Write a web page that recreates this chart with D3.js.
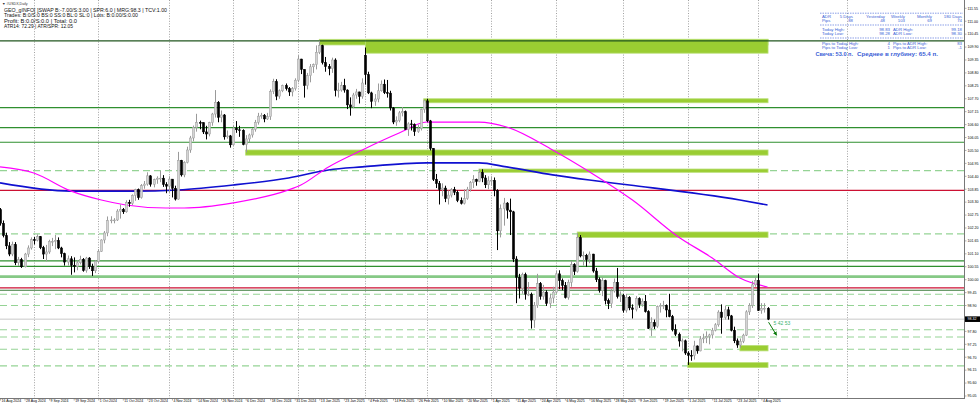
<!DOCTYPE html>
<html><head><meta charset="utf-8">
<script src="https://cdn.jsdelivr.net/npm/d3@7"></script>
<style>body{margin:0;background:#fff}svg{display:block}text{font-family:"Liberation Sans",Arial,sans-serif}</style>
</head><body><svg id="c" width="980" height="407"></svg>
<script>
// ---------- DATA ----------
const xLabels = ["16 Aug 2024","28 Aug 2024","9 Sep 2024","19 Sep 2024","1 Oct 2024","11 Oct 2024","23 Oct 2024","4 Nov 2024","14 Nov 2024","26 Nov 2024","6 Dec 2024","18 Dec 2024","31 Dec 2024","13 Jan 2025","23 Jan 2025","4 Feb 2025","14 Feb 2025","26 Feb 2025","10 Mar 2025","20 Mar 2025","1 Apr 2025","11 Apr 2025","24 Apr 2025","6 May 2025","16 May 2025","28 May 2025","9 Jun 2025","19 Jun 2025","1 Jul 2025","11 Jul 2025","23 Jul 2025","4 Aug 2025"];
const xLabelBars = [0,8,16,24,32,40,48,56,64,72,80,88,96,104,112,120,128,136,144,152,160,168,176,184,192,200,208,216,224,232,240,248];
const monthGridBars = [11,32,55,76,97,119,139,160,181,203,224,247,276];
const priceTicks = [111.55,111.00,110.45,109.90,109.35,108.80,108.25,107.70,107.15,106.60,106.05,105.50,104.95,104.40,103.85,103.30,102.75,102.20,101.65,101.10,100.55,100.00,99.45,98.90,98.35,97.80,97.25,96.70,96.15,95.60,95.05];

const open = [102.98,102.40,101.88,101.44,101.09,101.50,100.72,100.85,100.55,101.09,101.35,
101.70,101.68,101.83,101.36,101.09,101.18,101.63,101.63,101.67,101.35,101.11,100.75,100.89,100.61,100.57,100.72,100.87,100.39,100.92,100.56,100.38,
100.78,101.20,101.69,101.99,102.52,102.54,102.54,102.92,102.99,102.89,103.29,103.24,103.59,103.83,103.49,104.00,104.07,104.42,104.06,104.26,104.32,104.32,104.05,
103.98,104.28,103.89,103.43,105.08,104.46,104.99,105.52,106.03,106.48,106.69,106.68,106.29,106.20,106.68,107.05,107.55,106.91,107.01,106.08,106.12,
105.74,106.45,106.38,106.36,105.75,105.99,106.16,106.40,106.70,106.96,107.00,106.84,106.94,108.01,108.43,107.81,108.04,108.26,108.13,107.99,108.13,
108.49,109.39,108.95,108.26,108.68,109.06,109.15,109.68,109.96,109.24,109.07,108.98,109.35,108.06,108.07,108.26,108.07,107.44,107.36,107.86,107.99,107.80,
109.55,108.73,107.95,107.59,107.69,108.04,108.32,107.96,107.94,107.31,106.71,106.77,107.10,107.15,106.39,106.63,106.61,106.30,106.44,107.24,
107.61,106.76,105.59,104.27,104.09,103.84,103.90,103.45,103.60,103.83,103.72,103.37,103.25,103.45,103.85,104.13,104.26,104.18,104.56,104.33,104.04,
104.21,104.23,103.80,102.08,103.02,103.26,102.96,102.89,100.88,100.10,99.64,100.22,99.38,99.38,98.28,98.91,99.84,99.29,99.47,98.99,99.22,
99.47,100.25,99.96,99.76,99.24,99.89,100.64,100.35,101.79,101.01,101.04,100.85,101.09,100.37,100.00,99.55,99.96,99.11,98.98,99.52,99.89,99.28,
99.33,98.70,99.25,98.80,98.74,99.19,98.94,99.08,98.64,97.93,98.18,98.02,98.85,98.90,98.91,98.71,98.43,97.87,97.68,97.39,97.40,
96.88,96.78,96.77,97.18,96.97,97.48,97.52,97.58,97.65,97.85,98.08,98.62,98.39,98.72,98.46,97.85,97.40,97.22,97.38,97.64,98.63,98.90,99.78,
99.97,98.69,98.78,98.78];
const high = [103.05,102.52,102.00,101.60,101.62,101.60,100.97,100.93,101.14,101.46,101.80,
101.82,101.93,101.86,101.44,101.48,101.70,101.78,101.90,101.80,101.40,101.15,101.03,101.00,100.95,100.82,101.02,100.92,100.97,100.96,100.68,100.83,
101.30,101.72,102.07,102.69,102.70,102.62,103.00,103.20,103.05,103.38,103.40,103.63,103.87,103.88,104.07,104.20,104.57,104.45,104.30,104.40,104.63,104.45,104.15,
104.40,104.28,104.00,105.44,105.10,105.04,105.66,106.12,106.56,107.06,106.77,106.70,106.55,106.72,107.10,108.07,107.60,107.20,107.05,106.35,106.16,
106.55,106.75,106.55,106.40,106.15,106.22,106.45,106.80,107.10,107.10,107.05,107.10,108.10,108.55,108.53,108.10,108.30,108.35,108.20,108.20,108.57,
109.55,109.40,108.95,108.80,109.18,109.20,109.97,110.17,110.00,109.48,109.18,109.45,109.42,108.38,108.42,108.55,108.10,107.76,107.95,108.12,108.00,108.57,
109.88,108.85,108.00,107.90,108.35,108.48,108.52,108.50,108.04,107.35,106.95,107.18,107.35,107.20,106.70,106.80,106.65,106.60,107.28,107.66,
107.70,106.80,105.60,104.50,104.20,104.10,104.00,103.80,103.90,103.95,103.80,103.50,103.85,103.95,104.20,104.45,104.30,104.70,104.70,104.45,104.40,
104.40,104.35,103.85,103.20,103.48,103.30,103.45,102.93,101.00,100.25,100.30,100.30,99.90,99.45,99.05,100.25,99.90,99.78,99.55,99.40,99.70,
100.38,100.40,100.05,99.90,100.00,100.80,100.70,101.98,101.90,101.20,101.10,101.20,101.10,100.50,100.10,100.10,100.00,99.20,99.60,100.05,100.50,99.50,
99.40,99.40,99.30,98.95,99.30,99.25,99.20,99.35,98.70,98.40,98.30,98.90,99.00,99.10,98.95,99.40,98.50,98.10,97.75,97.50,97.45,
96.95,97.00,97.40,97.20,97.60,97.70,97.80,97.70,97.95,98.15,98.70,98.95,98.90,98.85,98.50,98.00,97.50,97.50,97.70,98.70,99.00,99.95,100.10,
100.25,99.00,99.00,98.83];
const low = [102.30,101.80,101.30,101.00,101.00,100.62,100.59,100.50,100.52,100.96,101.28,
101.50,101.63,101.30,100.88,100.78,101.10,101.43,101.30,101.30,100.95,100.60,100.60,100.21,100.31,100.40,100.65,100.34,100.30,100.46,100.16,100.28,
100.70,101.18,101.55,101.85,102.40,102.40,102.50,102.60,102.80,102.85,103.10,103.18,103.36,103.40,103.45,103.87,104.00,103.96,103.93,104.08,104.15,103.95,103.68,
103.70,103.50,103.37,103.40,104.39,104.36,104.95,105.40,105.89,106.30,106.40,106.20,105.97,106.10,106.55,106.90,106.70,106.70,105.96,106.00,105.62,
105.70,106.25,106.08,105.72,105.42,105.85,106.05,106.30,106.60,106.85,106.70,106.80,106.80,107.90,107.64,107.70,107.98,108.05,107.82,107.80,108.05,
108.40,108.75,107.75,108.10,108.40,108.80,108.95,109.60,109.16,108.85,108.70,108.80,107.80,107.75,108.00,107.96,107.26,106.98,107.30,107.70,107.50,107.70,
108.30,107.90,107.30,107.40,107.55,108.00,107.90,107.75,107.20,106.62,106.55,106.70,106.95,106.38,106.12,106.35,106.12,106.25,106.35,107.10,
106.70,105.50,104.20,103.90,103.20,103.55,103.30,103.20,103.50,103.60,103.30,103.20,103.20,103.40,103.75,103.90,104.00,104.15,104.15,103.90,103.85,
104.00,103.55,101.26,101.80,102.30,102.60,101.90,100.75,99.00,99.20,99.40,99.15,99.30,97.92,97.95,98.80,99.15,99.15,98.88,98.80,99.00,
99.40,99.60,99.55,99.20,99.15,99.70,100.20,100.30,100.95,100.60,100.55,100.70,100.30,99.90,99.45,99.30,98.95,98.75,98.80,99.45,99.20,99.05,
98.60,98.60,98.70,98.35,98.65,98.80,98.85,98.60,97.90,97.60,97.90,97.95,98.60,98.75,98.40,98.40,97.80,97.60,97.15,96.95,96.80,
96.37,96.55,96.60,96.85,96.95,97.30,97.30,97.25,97.50,97.80,98.00,97.70,98.30,98.30,97.80,97.30,97.10,97.10,97.30,97.60,98.50,98.80,99.70,
98.67,98.55,98.60,98.28];
const close = [102.40,101.88,101.44,101.09,101.50,100.72,100.85,100.55,101.09,101.35,101.70,
101.68,101.83,101.36,101.09,101.18,101.63,101.63,101.67,101.35,101.11,100.75,100.89,100.61,100.57,100.72,100.87,100.39,100.92,100.56,100.38,100.78,
101.20,101.69,101.99,102.52,102.54,102.54,102.92,102.99,102.89,103.29,103.24,103.59,103.83,103.49,104.00,104.07,104.42,104.06,104.26,104.32,104.32,104.05,103.98,
104.28,103.89,103.43,105.08,104.46,104.99,105.52,106.03,106.48,106.69,106.68,106.29,106.20,106.68,107.05,107.55,106.91,107.01,106.08,106.12,105.74,
106.45,106.38,106.36,105.75,105.99,106.16,106.40,106.70,106.96,107.00,106.84,106.94,108.01,108.43,107.81,108.04,108.26,108.13,107.99,108.13,108.49,
109.39,108.95,108.26,108.68,109.06,109.15,109.68,109.96,109.24,109.07,108.98,109.35,108.06,108.07,108.26,108.07,107.44,107.36,107.86,107.99,107.80,108.37,
108.73,107.95,107.59,107.69,108.04,108.32,107.96,107.94,107.31,106.71,106.77,107.10,107.15,106.39,106.63,106.61,106.30,106.44,107.24,107.61,
106.76,105.59,104.27,104.09,103.84,103.90,103.45,103.60,103.83,103.72,103.37,103.25,103.45,103.85,104.13,104.26,104.18,104.56,104.33,104.04,104.21,
104.23,103.80,102.08,103.02,103.26,102.96,102.89,100.88,100.10,99.64,100.22,99.38,99.38,98.28,98.91,99.84,99.29,99.47,98.99,99.22,99.47,
100.25,99.96,99.76,99.24,99.89,100.64,100.35,101.79,101.01,101.04,100.85,101.09,100.37,100.00,99.55,99.96,99.11,98.98,99.52,99.89,99.28,99.33,
98.70,99.25,98.80,98.74,99.19,98.94,99.08,98.64,97.93,98.18,98.02,98.85,98.90,98.91,98.71,98.43,97.87,97.68,97.39,97.40,96.88,
96.78,96.77,97.18,96.97,97.48,97.52,97.58,97.65,97.85,98.08,98.62,98.39,98.72,98.46,97.85,97.40,97.22,97.38,97.64,98.63,98.90,99.78,99.97,
98.69,98.78,98.78,98.32];

// moving averages (bar index, value)
const maSlowBars = [0,23,43,58,76,94,107,118,139,156,165,180,192,205,241,250];
const maSlowVals = [104.12,103.77,103.77,103.82,104.03,104.33,104.67,104.80,104.97,104.97,104.80,104.46,104.24,104.03,103.39,103.18];
const maFastBars = [0,11,23,33,41,54,60,76,94,98,107,118,130,139,156,165,180,192,206,221,232,241,250];
const maFastVals = [104.80,104.54,103.78,103.39,103.18,103.05,103.05,103.27,103.82,104.03,104.80,105.52,106.24,106.71,106.71,106.50,105.52,104.59,103.39,101.82,100.92,100.07,99.69];

// horizontal levels
const solidLevels = [107.32,106.47,105.85,100.80,100.57];
const dashedLevels = [104.64,101.95,99.38,98.90,97.87,97.56,97.04,96.33];
const redLevels = [103.80,99.65];
const topLevel = 110.16;
const wideLevel = 100.13;
const darkLevel = 99.55;
// zones: [startBar, top, bottom]
const zones = [[104,110.23,109.99],[119,110.23,109.64],[138,107.70,107.53],[80,105.52,105.30],[156,104.71,104.57],[188,102.03,101.80],[241,97.20,96.97],[224,96.47,96.26]];
const currentPrice = 98.32;

const headerLines = ["GEO_gINFO[ ]SWAP B:-7.00/S:3.00 | SPR:6.0 | MRG:98.3 | TCV:1.00","Trades: B:0/S:0 BS:0 SS:0 BL:0 SL:0 | Lots: B:0.00/S:0.00","Profit: B:0.0/S:0.0 | Total: 0.0","ATR14: 72.29 | ATR/SPR: 12.05"];
const adrHead = ["ADR","5 Days","Yesterday","Weekly","Monthly","180 Days"];
const adrPips = ["Pips","88","48","103","69","74"];

// ---------- DRAW ----------
const svg = d3.select("#c");
const W = 964, B = 398;
const x = d3.scaleLinear().domain([0,248]).range([0,761.4]);
const y = d3.scaleLinear().domain([95.05,111.55]).range([396,8.3]);
const lastBar = close.length-1;
const endX = x(lastBar)+0.5;

// month grid
svg.append("g").selectAll("line").data(monthGridBars).join("line")
  .attr("x1",d=>Math.round(x(d))+0.5).attr("x2",d=>Math.round(x(d))+0.5).attr("y1",0).attr("y2",B)
  .attr("stroke","#8a8a8a").attr("stroke-width",0.8).attr("stroke-dasharray","1,1.6");

// levels
const lv = svg.append("g");
lv.append("line").attr("x1",0).attr("x2",W).attr("y1",y(wideLevel)).attr("y2",y(wideLevel)).attr("stroke","#86c986").attr("stroke-width",2.6);
dashedLevels.forEach(p=>lv.append("line").attr("x1",0).attr("x2",W).attr("y1",y(p)).attr("y2",y(p)).attr("stroke","#95d395").attr("stroke-width",1.1).attr("stroke-dasharray","7,4"));
solidLevels.forEach(p=>lv.append("line").attr("x1",0).attr("x2",W).attr("y1",y(p)).attr("y2",y(p)).attr("stroke","#2f8f2f").attr("stroke-width",1.2));
lv.append("line").attr("x1",0).attr("x2",W).attr("y1",y(darkLevel)).attr("y2",y(darkLevel)).attr("stroke","#3a7a3a").attr("stroke-width",1.2);
redLevels.forEach(p=>lv.append("line").attr("x1",0).attr("x2",W).attr("y1",y(p)).attr("y2",y(p)).attr("stroke","#cc1133").attr("stroke-width",1.3));
lv.append("line").attr("x1",0).attr("x2",W).attr("y1",y(currentPrice)).attr("y2",y(currentPrice)).attr("stroke","#c8c8c8").attr("stroke-width",1);

// zones
svg.append("g").selectAll("rect").data(zones).join("rect")
  .attr("x",d=>x(d[0])).attr("width",d=>endX-x(d[0]))
  .attr("y",d=>y(d[1])).attr("height",d=>y(d[2])-y(d[1]))
  .attr("fill","#9acd32").attr("stroke","#b9df77").attr("stroke-width",0.8);
svg.append("line").attr("x1",0).attr("x2",W).attr("y1",y(topLevel)).attr("y2",y(topLevel)).attr("stroke","#22561f").attr("stroke-width",1.3);

// moving averages
const lineGen = d3.line().x(d=>x(d[0])).y(d=>y(d[1])).curve(d3.curveMonotoneX);
svg.append("path").attr("d",lineGen(maSlowBars.map((b,i)=>[b,maSlowVals[i]]))).attr("fill","none").attr("stroke","#1010d0").attr("stroke-width",1.6);
svg.append("path").attr("d",lineGen(maFastBars.map((b,i)=>[b,maFastVals[i]]))).attr("fill","none").attr("stroke","#ff00ff").attr("stroke-width",1.2);

// candles
const bars = close.map((c,i)=>({i,o:open[i],h:high[i],l:low[i],c}));
const cg = svg.append("g");
cg.selectAll("line").data(bars).join("line")
  .attr("x1",d=>Math.round(x(d.i))+0.5).attr("x2",d=>Math.round(x(d.i))+0.5)
  .attr("y1",d=>y(d.h)).attr("y2",d=>y(d.l))
  .attr("stroke",d=>d.c>=d.o?"#9a9a9a":"#000").attr("stroke-width",1);
cg.selectAll("rect").data(bars).join("rect")
  .attr("x",d=>Math.round(x(d.i))-0.6).attr("width",2.2)
  .attr("y",d=>y(Math.max(d.o,d.c))).attr("height",d=>Math.max(0.8,Math.abs(y(d.o)-y(d.c))))
  .attr("fill",d=>d.c>=d.o?"#d4d4d4":"#000").attr("stroke",d=>d.c>=d.o?"#9a9a9a":"#000").attr("stroke-width",0.5);

// arrow + timer
svg.append("defs").append("marker").attr("id","ah").attr("viewBox","0 0 6 6").attr("refX",5).attr("refY",3)
  .attr("markerWidth",4).attr("markerHeight",4).attr("orient","auto").append("path").attr("d","M0,0L6,3L0,6Z").attr("fill","#0b7a0b");
svg.append("line").attr("x1",x(lastBar)+1).attr("y1",y(currentPrice)+3).attr("x2",x(lastBar)+9).attr("y2",y(currentPrice)+16)
  .attr("stroke","#0b7a0b").attr("stroke-width",1).attr("marker-end","url(#ah)");
svg.append("text").attr("x",x(lastBar)+6).attr("y",y(currentPrice)+6).attr("font-size",5).attr("fill","#3cb371").text("5 42 53");

// axes
svg.append("line").attr("x1",W+0.5).attr("x2",W+0.5).attr("y1",0).attr("y2",B).attr("stroke","#777").attr("stroke-width",1);
svg.append("line").attr("x1",0).attr("x2",W+1).attr("y1",B+0.5).attr("y2",B+0.5).attr("stroke","#777").attr("stroke-width",1);
const ya = svg.append("g");
ya.selectAll("line").data(priceTicks).join("line").attr("x1",W).attr("x2",W+2.5).attr("y1",d=>y(d)).attr("y2",d=>y(d)).attr("stroke","#777").attr("stroke-width",0.6);
ya.selectAll("text").data(priceTicks).join("text").attr("x",W+3.5).attr("y",d=>y(d)+1.3).attr("font-size",3.6).attr("fill","#000").text(d=>d.toFixed(2));
ya.append("rect").attr("x",W+1).attr("y",y(currentPrice)-2.8).attr("width",15).attr("height",5.6).attr("fill","#000");
ya.append("text").attr("x",W+3.5).attr("y",y(currentPrice)+1.3).attr("font-size",3.6).attr("fill","#fff").text(currentPrice.toFixed(2));

const xa = svg.append("g");
xa.selectAll("line").data(xLabelBars).join("line").attr("x1",d=>x(d)+0.5).attr("x2",d=>x(d)+0.5).attr("y1",B).attr("y2",B+2.5).attr("stroke","#777").attr("stroke-width",0.6);
xa.selectAll("text").data(xLabels).join("text").attr("x",(d,i)=>x(xLabelBars[i])+1.5).attr("y",B+4.4).attr("font-size",3.5).attr("fill","#000").text(d=>d);

// header
svg.append("text").attr("x",2).attr("y",5).attr("font-size",3.6).attr("fill","#333").text("▼ #USDX,Daily");
const hl=[163,134,73,69], hy=[12.3,17.4,22.9,28.3];
headerLines.forEach((t,i)=>svg.append("text").attr("x",4).attr("y",hy[i]).attr("font-size",5).attr("fill","#111")
  .attr("textLength",hl[i]).attr("lengthAdjust","spacingAndGlyphs").text(t));

// ADR table
const tb = svg.append("g").attr("fill","#3c5fd6").attr("font-size",4.3);
const colR = [830,853,885,905,932,962];
adrHead.forEach((t,i)=>tb.append("text").attr("x",i==0?822:colR[i]).attr("y",18).attr("text-anchor",i==0?"start":"end").text(t));
adrPips.forEach((t,i)=>tb.append("text").attr("x",i==0?822:colR[i]).attr("y",22.3).attr("text-anchor",i==0?"start":"end").text(t));
const dash = yy=>tb.append("line").attr("x1",820).attr("x2",963).attr("y1",yy).attr("y2",yy).attr("stroke","#3c5fd6").attr("stroke-width",0.6).attr("stroke-dasharray","1.5,1");
dash(13.2); dash(25); dash(38);
const rows = [["Today High:","98.83","ADR High:","99.18"],["Today Low:","98.28","ADR Low:","98.30"],["Pips to Today High:","4","Pips to ADR High:","83"],["Pips to Today Low:","1","Pips to ADR Low:","-1"]];
rows.forEach((r,k)=>{const yy=[30.6,35,44.8,49.2][k];
  tb.append("text").attr("x",822).attr("y",yy).text(r[0]);
  tb.append("text").attr("x",890).attr("y",yy).attr("text-anchor","end").text(r[1]);
  tb.append("text").attr("x",893).attr("y",yy).text(r[2]);
  tb.append("text").attr("x",962).attr("y",yy).attr("text-anchor","end").text(r[3]);});
tb.append("text").attr("x",853).attr("y",56.3).attr("text-anchor","end").attr("font-weight","bold").attr("font-size",5.6).text("Свеча: 53.0 п.");
tb.append("text").attr("x",857).attr("y",56.3).attr("font-weight","bold").attr("font-size",5.6).attr("textLength",81).attr("lengthAdjust","spacingAndGlyphs").text("Среднее в глубину: 65.4 п.");
</script></body></html>
